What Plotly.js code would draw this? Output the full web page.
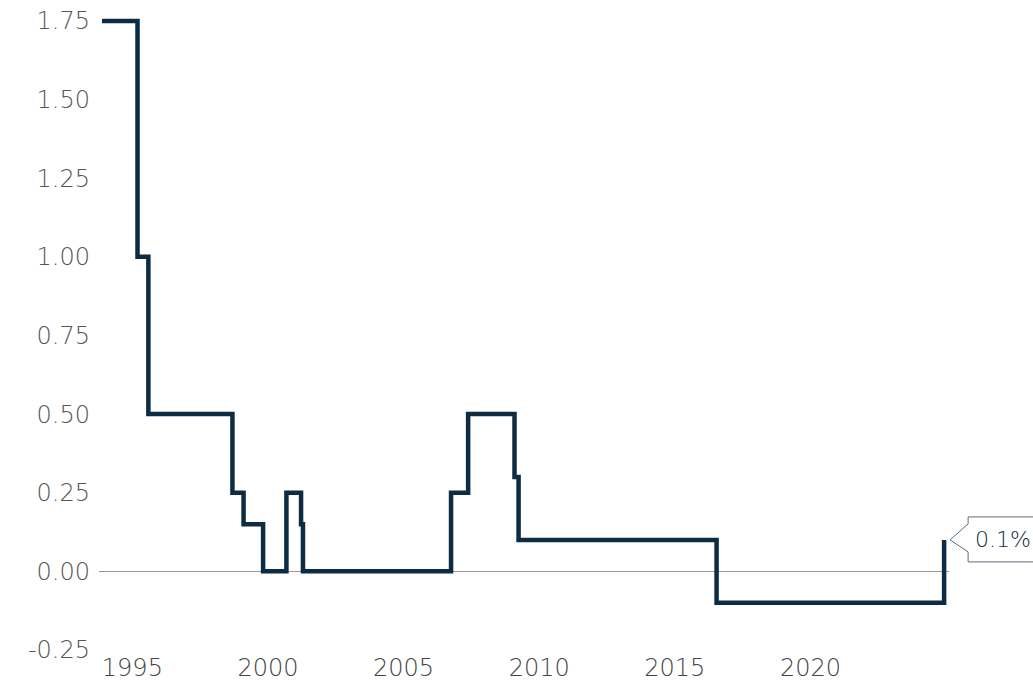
<!DOCTYPE html>
<html>
<head>
<meta charset="utf-8">
<script src="https://cdn.plot.ly/plotly-3.0.1.min.js"></script>
<style>html,body{margin:0;padding:0;background:#fff;}#chart{width:1033px;height:682px;}</style>
</head>
<body>
<div id="chart"></div>
<script>
// Policy rate step-change dates (decimal years) and levels (%)
const changeDates = [1993.88, 1995.19, 1995.59, 1998.69, 1999.10, 1999.82, 2000.68, 2001.22, 2001.29, 2006.75, 2007.38, 2009.09, 2009.24, 2016.54, 2024.93];
const rateLevels  = [1.75, 1.00, 0.50, 0.25, 0.15, 0.00, 0.25, 0.15, 0.00, 0.25, 0.50, 0.30, 0.10, -0.10, 0.10];
const xTickYears  = [1995, 2000, 2005, 2010, 2015, 2020];
const yTickValues = [-0.25, 0, 0.25, 0.5, 0.75, 1.0, 1.25, 1.5, 1.75];
const yTickLabels = ['-0.25', '0.00', '0.25', '0.50', '0.75', '1.00', '1.25', '1.50', '1.75'];

const xRange = [1993.77, 2025.11];
const yRange = [-0.25, 1.769];
const lineColor = '#0d2b42';
const fontFam = '"DejaVu Sans", sans-serif';

const lastX = changeDates[changeDates.length - 1];
const lastY = rateLevels[rateLevels.length - 1];
const ax = (lastX - xRange[0]) / (xRange[1] - xRange[0]);
const ay = (lastY - yRange[0]) / (yRange[1] - yRange[0]);

const trace = {
  type: 'scatter', mode: 'lines',
  x: changeDates, y: rateLevels,
  line: {shape: 'hv', color: lineColor, width: 4.5},
  hoverinfo: 'skip'
};

const layout = {
  width: 1033, height: 682,
  margin: {l: 99, r: 84, t: 15, b: 32},
  paper_bgcolor: '#fff', plot_bgcolor: '#fff',
  showlegend: false,
  font: {family: fontFam, color: '#555', size: 24},
  xaxis: {
    range: xRange, tickmode: 'array', tickvals: xTickYears,
    ticktext: xTickYears.map(String),
    showgrid: false, zeroline: false, showline: false, ticks: '',
    ticklabelstandoff: 1,
    tickfont: {family: fontFam, size: 24, color: '#444', weight: 300}
  },
  yaxis: {
    range: yRange, tickmode: 'array', tickvals: yTickValues,
    ticktext: yTickLabels,
    showgrid: false, showline: false, ticks: '',
    zeroline: true, zerolinecolor: '#999', zerolinewidth: 1.5,
    ticklabelstandoff: 8,
    tickfont: {family: fontFam, size: 24, color: '#555', weight: 300}
  },
  shapes: [{
    type: 'path', xref: 'paper', yref: 'paper',
    xsizemode: 'pixel', ysizemode: 'pixel',
    xanchor: ax, yanchor: ay,
    path: 'M 24,23 L 24,16 L 6,0 L 24,-12 L 24,-22 L 120,-22 L 120,23 Z',
    line: {color: '#5b6b7a', width: 1},
    fillcolor: '#fff', layer: 'above'
  }],
  annotations: [{
    xref: 'x', yref: 'y', x: lastX, y: lastY,
    text: lastY.toFixed(1) + '%', showarrow: false,
    xanchor: 'left', yanchor: 'middle', xshift: 29, yshift: 0,
    font: {family: fontFam, size: 22, color: lineColor, weight: 300}
  }]
};

Plotly.newPlot('chart', [trace], layout, {displayModeBar: false, staticPlot: true});
</script>
</body>
</html>
